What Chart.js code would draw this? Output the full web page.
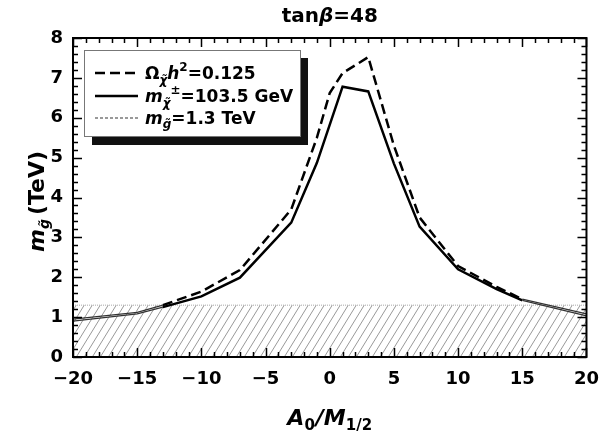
<!DOCTYPE html>
<html><head><meta charset="utf-8">
<script src="https://cdn.jsdelivr.net/npm/chart.js@4"></script>
<style>html,body{margin:0;padding:0;background:#fff}#wrap{width:611px;height:434px;position:relative}</style>
</head><body><div id="wrap"><canvas id="c" width="611" height="434"></canvas></div>
<script>
// ---- data ----
const xRelic    = [-20, -15, -13, -10, -7, -3, -1, 0, 1, 3, 5, 7, 10, 13, 15, 20];
const yRelic    = [0.95, 1.12, 1.3, 1.64, 2.18, 3.7, 5.5, 6.62, 7.12, 7.52, 5.3, 3.5, 2.28, 1.76, 1.45, 1.08];
const xChargino = [-20, -15, -13, -10, -7, -3, -1, 1, 3, 5, 7, 10, 13, 15, 20];
const yChargino = [0.9, 1.08, 1.25, 1.52, 1.99, 3.37, 4.87, 6.78, 6.66, 4.85, 3.27, 2.2, 1.7, 1.42, 1.03];
const gluinoLimit = 1.3;
const xLimits = [-20, 20];
const yLimits = [0, 8];
const titleText = ['tan', 'β', '=48'];

const FONT = '"DejaVu Sans"';

function hatchPattern() {
  const c = document.createElement('canvas');
  c.width = 8; c.height = 13;
  const g = c.getContext('2d');
  g.strokeStyle = '#999'; g.lineWidth = 1;
  for (const off of [-8, 0, 8]) {
    g.beginPath(); g.moveTo(off, 13); g.lineTo(off + 8, 0); g.stroke();
  }
  return document.getElementById('c').getContext('2d').createPattern(c, 'repeat');
}

const pts = (xs, ys) => xs.map((x, i) => ({x, y: ys[i]}));
const low = ctx => (ctx.p0.parsed.y + ctx.p1.parsed.y) / 2 < gluinoLimit;

function richText(g, x, y, parts) {
  let cx = x;
  for (const p of parts) {
    g.font = p.f;
    g.fillText(p.t, cx, y + (p.dy || 0));
    cx += g.measureText(p.t).width + (p.sp || 0);
  }
  return cx - x;
}
function richWidth(g, parts) {
  let w = 0;
  for (const p of parts) { g.font = p.f; w += g.measureText(p.t).width + (p.sp || 0); }
  return w;
}

const decor = {
  id: 'decor',
  afterDatasetsDraw(chart) {
    const g = chart.ctx, a = chart.chartArea, xs = chart.scales.x, ys = chart.scales.y;
    g.save();
    g.strokeStyle = '#000'; g.lineWidth = 1.5;
    for (let v = xLimits[0]; v <= xLimits[1]; v++) {
      const px = Math.round(xs.getPixelForValue(v)) + 0.5;
      const L = v % 5 === 0 ? 9 : 5;
      g.beginPath(); g.moveTo(px, a.bottom); g.lineTo(px, a.bottom - L);
      g.moveTo(px, a.top); g.lineTo(px, a.top + L); g.stroke();
    }
    for (let k = 0; k <= 40; k++) {
      const v = k * 0.2;
      const py = Math.round(ys.getPixelForValue(v)) + 0.5;
      const L = k % 5 === 0 ? 9 : 5;
      g.beginPath(); g.moveTo(a.left, py); g.lineTo(a.left + L, py);
      g.moveTo(a.right, py); g.lineTo(a.right - L, py); g.stroke();
    }
    g.lineWidth = 2;
    g.strokeRect(a.left, a.top, a.right - a.left, a.bottom - a.top);
    g.restore();
  },
  afterDraw(chart) {
    const g = chart.ctx, a = chart.chartArea;
    g.save();
    g.fillStyle = '#000'; g.textBaseline = 'alphabetic';
    // title
    const tParts = [
      {t: titleText[0], f: 'bold 20px ' + FONT},
      {t: titleText[1], f: 'italic bold 20px ' + FONT},
      {t: titleText[2], f: 'bold 20px ' + FONT}];
    const cxm = (a.left + a.right) / 2;
    richText(g, cxm - richWidth(g, tParts) / 2, 22, tParts);
    // x title
    const xParts = [
      {t: 'A', f: 'italic bold 22px ' + FONT},
      {t: '0', f: 'bold 15px ' + FONT, dy: 5, sp: 1},
      {t: '/', f: 'italic bold 22px ' + FONT},
      {t: 'M', f: 'italic bold 22px ' + FONT},
      {t: '1/2', f: 'bold 15px ' + FONT, dy: 5}];
    richText(g, cxm - richWidth(g, xParts) / 2, 425, xParts);
    // y title
    const yParts = [
      {t: 'm', f: 'italic bold 22px ' + FONT},
      {t: 'g\u0303', f: 'italic bold 14px ' + FONT, dy: 5, sp: 4},
      {t: '(TeV)', f: 'bold 22px ' + FONT}];
    g.translate(44, (a.top + a.bottom) / 2 + 4);
    g.rotate(-Math.PI / 2);
    richText(g, -richWidth(g, yParts) / 2, 0, yParts);
    g.setTransform(1, 0, 0, 1, 0, 0);
    // legend
    g.fillStyle = '#111';
    g.fillRect(92, 58, 216, 87);
    g.fillStyle = '#fff';
    g.fillRect(84, 50, 217, 87);
    g.strokeStyle = '#777'; g.lineWidth = 1;
    g.strokeRect(84.5, 50.5, 216, 86);
    const rows = [
      {y: 73, dash: [10, 5], w: 2.5, c: '#000', parts: [
        {t: 'Ω', f: 'bold 17px ' + FONT},
        {t: 'χ\u0303', f: 'italic bold 12px ' + FONT, dy: 5},
        {t: 'h', f: 'italic bold 17px ' + FONT},
        {t: '2', f: 'bold 12px ' + FONT, dy: -8},
        {t: '=0.125', f: 'bold 17px ' + FONT}]},
      {y: 96, dash: [], w: 2.5, c: '#000', parts: [
        {t: 'm', f: 'italic bold 17px ' + FONT},
        {t: 'χ\u0303', f: 'italic bold 12px ' + FONT, dy: 5},
        {t: '±', f: 'bold 12px ' + FONT, dy: -8},
        {t: '=103.5 GeV', f: 'bold 17px ' + FONT}]},
      {y: 118, dash: [3, 2], w: 2, c: '#999', parts: [
        {t: 'm', f: 'italic bold 17px ' + FONT},
        {t: 'g\u0303', f: 'italic bold 12px ' + FONT, dy: 4},
        {t: '=1.3 TeV', f: 'bold 17px ' + FONT}]}];
    for (const r of rows) {
      g.strokeStyle = r.c; g.lineWidth = r.w; g.setLineDash(r.dash);
      g.beginPath(); g.moveTo(95, r.y); g.lineTo(138, r.y); g.stroke();
      g.setLineDash([]);
      g.fillStyle = '#000';
      richText(g, 145, r.y + 6, r.parts);
    }
    g.restore();
  }
};

const tickFont = {family: FONT, size: 18, weight: 'bold'};
new Chart(document.getElementById('c'), {
  type: 'line',
  data: {
    datasets: [
      {label: 'relic', data: pts(xRelic, yRelic), borderColor: '#000', borderWidth: 2.5,
       borderDash: [10, 5], pointRadius: 0, fill: false, order: 1, tension: 0,
       segment: {borderWidth: c => low(c) ? 1.2 : 2.5, borderDash: c => low(c) ? [] : [10, 5],
                 borderColor: c => low(c) ? '#333' : '#000'}},
      {label: 'chargino', data: pts(xChargino, yChargino), borderColor: '#000', borderWidth: 2.5,
       pointRadius: 0, fill: false, order: 2, tension: 0,
       segment: {borderWidth: c => low(c) ? 1.2 : 2.5, borderColor: c => low(c) ? '#333' : '#000'}},
      {label: 'gluino', data: [{x: xLimits[0], y: gluinoLimit}, {x: xLimits[1], y: gluinoLimit}],
       borderColor: '#aaa', borderWidth: 1, borderDash: [1, 1], pointRadius: 0,
       fill: 'origin', backgroundColor: hatchPattern(), order: 3}
    ]
  },
  options: {
    responsive: false, animation: false, devicePixelRatio: 1,
    layout: {padding: {left: 0, right: 22, top: 38, bottom: 0}},
    plugins: {legend: {display: false}, tooltip: {enabled: false}},
    scales: {
      x: {type: 'linear', min: xLimits[0], max: xLimits[1],
          grid: {display: false, drawTicks: false}, border: {display: false},
          ticks: {stepSize: 5, padding: 12, color: '#000', font: tickFont, maxRotation: 0,
                  callback: v => v < 0 ? '\u2212' + Math.abs(v) : String(v)},
          afterFit: s => { s.height = 77; }},
      y: {min: yLimits[0], max: yLimits[1],
          grid: {display: false, drawTicks: false}, border: {display: false},
          ticks: {stepSize: 1, padding: 10, color: '#000', font: tickFont},
          afterFit: s => { s.width = 73; }}
    }
  },
  plugins: [decor]
});
</script></body></html>
